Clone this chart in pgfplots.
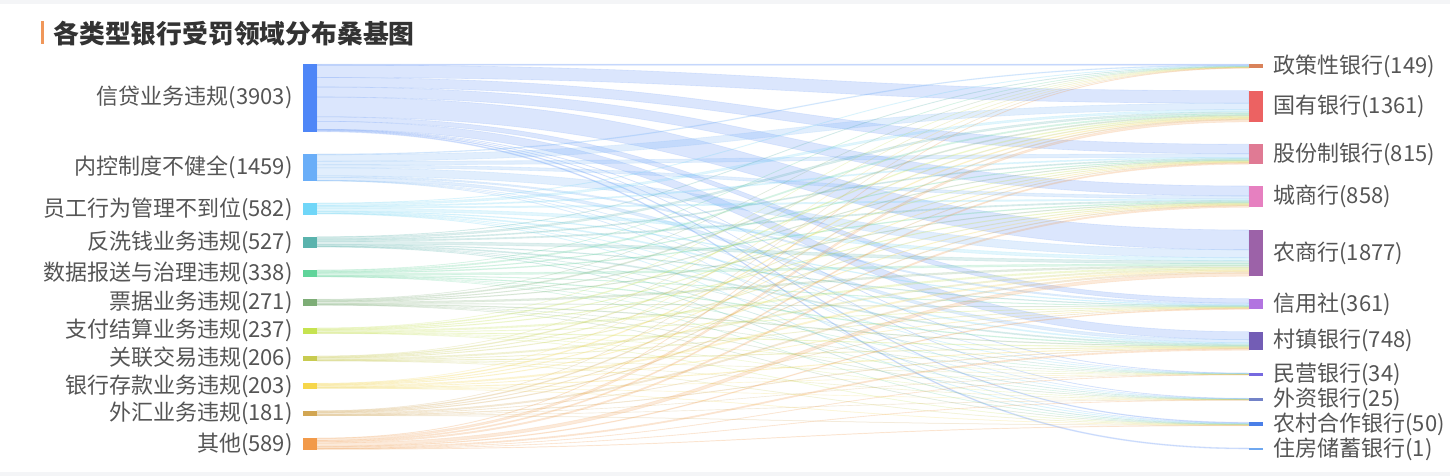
\documentclass[border=0pt]{standalone}
\usepackage{pgfplots}
\pgfplotsset{compat=1.18}
\usepackage{pgfplotstable}
\usepackage{fontspec}
\setmainfont{Noto Sans CJK SC}
\definecolor{s0}{HTML}{4E86F7}
\definecolor{s1}{HTML}{6AAEF8}
\definecolor{s2}{HTML}{70D6F8}
\definecolor{s3}{HTML}{5AB3AD}
\definecolor{s4}{HTML}{60D49A}
\definecolor{s5}{HTML}{7DAD76}
\definecolor{s6}{HTML}{C6E350}
\definecolor{s7}{HTML}{C8CB50}
\definecolor{s8}{HTML}{F6D64A}
\definecolor{s9}{HTML}{D2A652}
\definecolor{s10}{HTML}{F29A4A}
\definecolor{t0}{HTML}{D9825A}
\definecolor{t1}{HTML}{EC6262}
\definecolor{t2}{HTML}{E07A94}
\definecolor{t3}{HTML}{E680C0}
\definecolor{t4}{HTML}{9C62A8}
\definecolor{t5}{HTML}{B274E0}
\definecolor{t6}{HTML}{735DB5}
\definecolor{t7}{HTML}{7669E0}
\definecolor{t8}{HTML}{7383C8}
\definecolor{t9}{HTML}{4A7FE8}
\definecolor{t10}{HTML}{6FA8F0}
\definecolor{labelgray}{HTML}{555555}
\definecolor{titlecol}{HTML}{333333}
\definecolor{titlebar}{HTML}{F0975A}
\definecolor{bggray}{HTML}{F4F5F7}
\newcommand\labfont{\fontsize{11}{12}\selectfont}

% link widths (source, target, width)
\pgfplotstableread{
s t w
0 0 1.0
0 1 12.5
0 2 9.5
0 3 10.0
0 4 19.8
0 5 4.5
0 6 8.0
0 7 0.3
0 8 0.3
0 9 0.8
0 10 1.0
1 0 0.8
1 1 6.5
1 2 3.5
1 3 3.0
1 4 8.0
1 5 1.5
1 6 3.0
1 7 0.2
1 8 0.2
1 9 0.3
2 0 0.4
2 1 2.1
2 2 1.2
2 3 1.4
2 4 3.0
2 5 0.8
2 6 1.2
2 7 0.3
2 8 0.2
2 9 0.4
3 0 0.4
3 1 1.9
3 2 1.1
3 3 1.3
3 4 2.9
3 5 0.7
3 6 1.2
3 7 0.2
3 8 0.3
3 9 0.4
4 0 0.3
4 1 1.3
4 2 0.7
4 3 0.9
4 4 1.9
4 5 0.5
4 6 0.8
4 7 0.2
4 8 0.1
4 9 0.2
5 0 0.2
5 1 1.1
5 2 0.6
5 3 0.7
5 4 1.7
5 5 0.4
5 6 0.7
5 7 0.1
5 8 0.2
5 9 0.2
6 0 0.2
6 1 1.0
6 2 0.6
6 3 0.7
6 4 1.5
6 5 0.4
6 6 0.6
6 7 0.1
6 8 0.1
6 9 0.2
7 0 0.2
7 1 0.9
7 2 0.5
7 3 0.6
7 4 1.4
7 5 0.4
7 6 0.6
7 7 0.1
7 8 0.1
7 9 0.2
8 0 0.2
8 1 0.9
8 2 0.5
8 3 0.6
8 4 1.4
8 5 0.4
8 6 0.6
8 7 0.1
8 8 0.1
8 9 0.2
9 0 0.2
9 1 0.9
9 2 0.5
9 3 0.7
9 4 1.4
9 5 0.3
9 6 0.5
9 7 0.1
9 8 0.1
9 9 0.2
10 0 0.4
10 1 2.1
10 2 1.2
10 3 1.4
10 4 3.2
10 5 0.8
10 6 1.3
10 7 0.3
10 8 0.3
10 9 0.4
}\linktab

% source nodes: top, height
\pgfplotstableread{
id top h
0 64 67.7
1 154 27
2 203 11.7
3 236.7 11
4 270 7.3
5 299.3 6.3
6 328 5.7
7 356 5.3
8 383.3 5.3
9 410.7 5
10 438 12
}\srcnodes

% target nodes: top, height
\pgfplotstableread{
id top h
0 64 4.3
1 90.7 31.3
2 144.3 20
3 186 21.3
4 230 46
5 298.7 10.7
6 331.7 18.3
7 373 2.5
8 398.3 2.2
9 422.3 3.4
10 448 2
}\tgtnodes

\begin{document}
\begin{tikzpicture}
\begin{axis}[scale only axis, width=725pt, height=238pt,
  xmin=0, xmax=1450, ymin=0, ymax=476, y dir=reverse,
  axis lines=none, clip=false]
\pgfplotsextra{
  \fill[bggray] (axis cs:0,0) rectangle (axis cs:1450,476);
  \fill[white] (axis cs:0,4) rectangle (axis cs:1450,472);
  \fill[titlebar] (axis cs:40.5,21.5) rectangle (axis cs:44,44.5);
  \node[anchor=west, inner sep=0pt, text=titlecol, font=\fontsize{12.9}{14}\selectfont\bfseries] at (axis cs:53,33.5) {各类型银行受罚领域分布桑基图};
  \foreach \i in {0,...,10}{%
    \expandafter\gdef\csname so\i\endcsname{0}%
    \expandafter\gdef\csname to\i\endcsname{0}}%
  \pgfplotstablegetrowsof{\linktab}%
  \pgfmathtruncatemacro\nlast{\pgfplotsretval-1}%
  \foreach \r in {0,...,\nlast}{%
    \pgfplotstablegetelem{\r}{s}\of\linktab \edef\lkS{\pgfplotsretval}%
    \pgfplotstablegetelem{\r}{t}\of\linktab \edef\lkT{\pgfplotsretval}%
    \pgfplotstablegetelem{\r}{w}\of\linktab \edef\lkW{\pgfplotsretval}%
    \pgfplotstablegetelem{\lkS}{top}\of\srcnodes \edef\sTop{\pgfplotsretval}%
    \pgfplotstablegetelem{\lkT}{top}\of\tgtnodes \edef\tTop{\pgfplotsretval}%
    \pgfmathsetmacro\ya{\sTop+\csname so\lkS\endcsname}%
    \pgfmathsetmacro\yb{\tTop+\csname to\lkT\endcsname}%
    \pgfmathsetmacro\yaa{\ya+\lkW}%
    \pgfmathsetmacro\ybb{\yb+\lkW}%
    \pgfmathsetmacro\nso{\csname so\lkS\endcsname+\lkW}%
    \pgfmathsetmacro\nto{\csname to\lkT\endcsname+\lkW}%
    \expandafter\xdef\csname so\lkS\endcsname{\nso}%
    \expandafter\xdef\csname to\lkT\endcsname{\nto}%
    \filldraw[fill=s\lkS, fill opacity=0.2, draw=s\lkS, draw opacity=0.15, line width=0.3pt] (axis cs:317,\ya) .. controls (axis cs:783,\ya) and (axis cs:783,\yb) .. (axis cs:1249,\yb) -- (axis cs:1249,\ybb) .. controls (axis cs:783,\ybb) and (axis cs:783,\yaa) .. (axis cs:317,\yaa) -- cycle;
  }%
  \foreach \i/\lab in {0/信贷业务违规(3903),1/内控制度不健全(1459),2/员工行为管理不到位(582),3/反洗钱业务违规(527),4/数据报送与治理违规(338),5/票据业务违规(271),6/支付结算业务违规(237),7/关联交易违规(206),8/银行存款业务违规(203),9/外汇业务违规(181),10/其他(589)}{%
    \pgfplotstablegetelem{\i}{top}\of\srcnodes \edef\nT{\pgfplotsretval}%
    \pgfplotstablegetelem{\i}{h}\of\srcnodes \edef\nH{\pgfplotsretval}%
    \pgfmathsetmacro\nB{\nT+\nH}%
    \pgfmathsetmacro\nM{\nT+\nH/2}%
    \fill[s\i] (axis cs:303,\nT) rectangle (axis cs:317,\nB);
    \node[anchor=east, inner sep=0pt, text=labelgray, font=\labfont] at (axis cs:293,\nM) {\lab};
  }%
  \foreach \i/\lab in {0/政策性银行(149),1/国有银行(1361),2/股份制银行(815),3/城商行(858),4/农商行(1877),5/信用社(361),6/村镇银行(748),7/民营银行(34),8/外资银行(25),9/农村合作银行(50),10/住房储蓄银行(1)}{%
    \pgfplotstablegetelem{\i}{top}\of\tgtnodes \edef\nT{\pgfplotsretval}%
    \pgfplotstablegetelem{\i}{h}\of\tgtnodes \edef\nH{\pgfplotsretval}%
    \pgfmathsetmacro\nB{\nT+\nH}%
    \pgfmathsetmacro\nM{\nT+\nH/2}%
    \fill[t\i] (axis cs:1249,\nT) rectangle (axis cs:1263,\nB);
    \node[anchor=west, inner sep=0pt, text=labelgray, font=\labfont] at (axis cs:1273,\nM) {\lab};
  }%
}
\end{axis}
\end{tikzpicture}
\end{document}
